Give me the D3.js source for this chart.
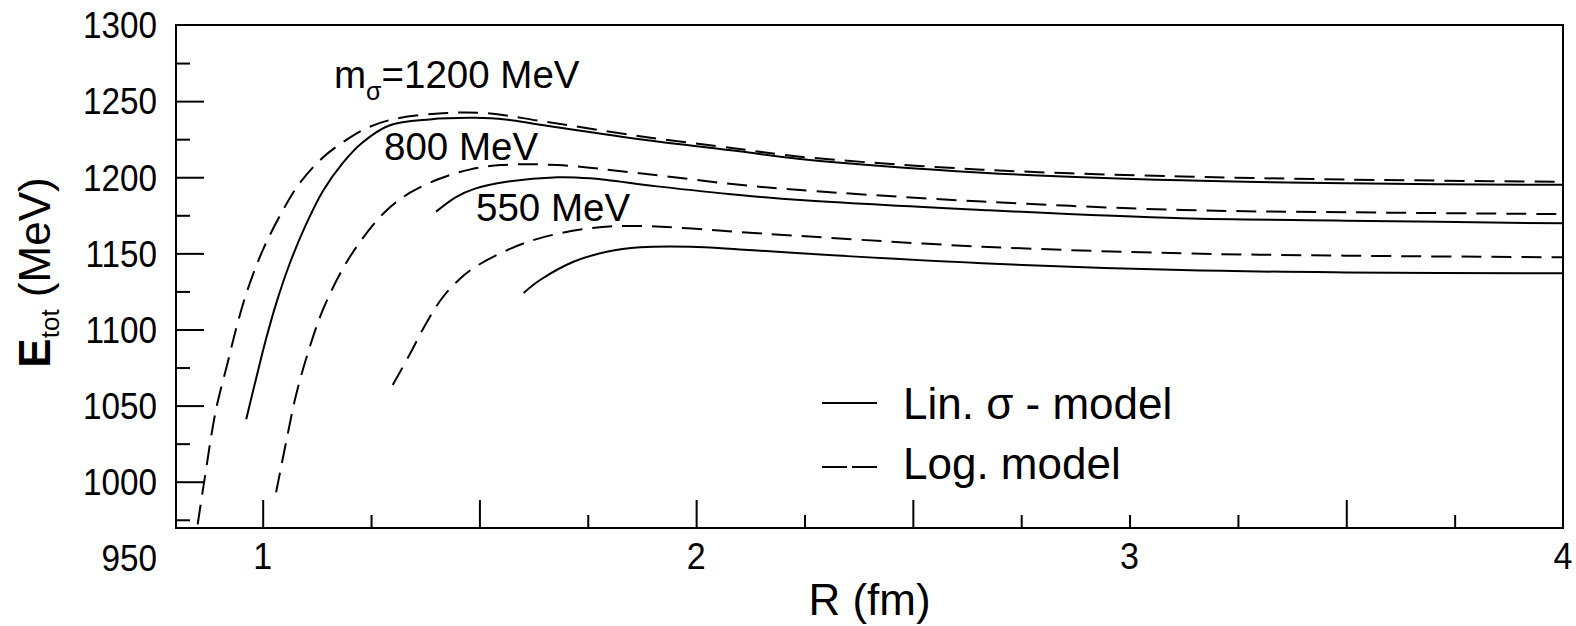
<!DOCTYPE html>
<html>
<head>
<meta charset="utf-8">
<script src="https://cdn.jsdelivr.net/npm/d3@7"></script>
<style>
  html, body { margin: 0; padding: 0; background: #fff; }
  svg { display: block; font-family: "Liberation Sans", Arial, sans-serif; }
</style>
</head>
<body>
<svg id="chart" width="1576" height="626"></svg>
<script>
// Total energy E_tot (MeV) versus radius R (fm) for three sigma masses
const linModel1200 = [[0.962,1041],[0.985,1068],[1.008,1094],[1.031,1117],[1.062,1143],[1.1,1169],[1.139,1191],[1.185,1209.5],[1.231,1223],[1.292,1234],[1.385,1238],[1.49,1239],[1.56,1238],[1.64,1234.5],[1.87,1225],[2.1,1217],[2.24,1212],[2.66,1203],[3.12,1198],[3.5,1196],[4,1195]];
const logModel1200 = [[0.85,972],[0.865,1000],[0.892,1047],[0.919,1078],[0.942,1104],[0.965,1126],[1.0,1152],[1.046,1178],[1.085,1196],[1.139,1213],[1.185,1223],[1.238,1232],[1.3,1238],[1.415,1242],[1.52,1242],[1.64,1237],[1.87,1227],[2.1,1218.5],[2.24,1213.5],[2.66,1205],[3.12,1200.5],[3.5,1198.5],[4,1197]];
const linModel800 = [[1.4,1177.4],[1.446,1187],[1.49,1192.5],[1.563,1197],[1.68,1200],[1.755,1199.3],[1.91,1194],[2.1,1188.3],[2.24,1185],[2.66,1178.5],[3.12,1173],[3.5,1171.5],[4,1169.7]];
const logModel800 = [[1.031,993],[1.054,1026],[1.077,1057],[1.108,1088],[1.139,1113],[1.185,1140],[1.231,1160],[1.285,1178],[1.338,1189.5],[1.408,1199],[1.477,1205],[1.55,1208],[1.68,1208],[1.87,1202.6],[2.1,1195],[2.24,1191.6],[2.66,1184],[3.12,1178.5],[3.5,1177],[4,1175.8]];
const linModel550 = [[1.602,1124],[1.64,1132.5],[1.717,1144.5],[1.794,1151],[1.871,1154],[1.987,1154.4],[2.1,1152.6],[2.24,1150],[2.66,1143.5],[3.12,1139],[3.5,1137.5],[4,1136.9]];
const logModel550 = [[1.3,1063.5],[1.338,1083],[1.377,1104],[1.415,1121],[1.454,1133],[1.49,1141],[1.563,1152],[1.64,1160],[1.755,1166.5],[1.87,1168],[2.1,1164],[2.24,1161.4],[2.66,1154.4],[3.12,1150],[3.5,1148.5],[4,1147.4]];

const xTickLabels = [1, 2, 3, 4];
const xMajorTicks = [1, 1.5, 2, 2.5, 3.5];
const xMinorTicks = [1.25, 1.75, 2.25, 2.75, 3, 3.25, 3.75];
const yTickLabels = [950, 1000, 1050, 1100, 1150, 1200, 1250, 1300];
const yMajorTicks = [1000, 1050, 1100, 1150, 1200, 1250];
const yMinorTicks = [975, 1025, 1075, 1125, 1175, 1225, 1275];

const curves = [
  { data: linModel1200, dashed: false },
  { data: logModel1200, dashed: true },
  { data: linModel800, dashed: false },
  { data: logModel800, dashed: true },
  { data: linModel550, dashed: false },
  { data: logModel550, dashed: true }
];

const plotLeft = 176, plotRight = 1563, plotTop = 25, plotBottom = 528;
const x = d3.scaleLinear().domain([0.8, 4]).range([plotLeft, plotRight]);
const y = d3.scaleLinear().domain([969.6, 1300]).range([plotBottom, plotTop]);

const svg = d3.select("#chart");

svg.append("defs").append("clipPath").attr("id", "plotClip")
  .append("rect").attr("x", plotLeft).attr("y", plotTop)
  .attr("width", plotRight - plotLeft).attr("height", plotBottom - plotTop);

// curves
const line = d3.line().x(d => x(d[0])).y(d => y(d[1])).curve(d3.curveCatmullRom.alpha(0.5));
const plot = svg.append("g").attr("clip-path", "url(#plotClip)");
plot.selectAll("path.curve").data(curves).join("path")
  .attr("class", "curve")
  .attr("d", d => line(d.data))
  .attr("fill", "none")
  .attr("stroke", "#000")
  .attr("stroke-width", 2)
  .attr("stroke-dasharray", d => d.dashed ? "20,10" : null);

// frame
svg.append("rect").attr("x", plotLeft).attr("y", plotTop)
  .attr("width", plotRight - plotLeft).attr("height", plotBottom - plotTop)
  .attr("fill", "none").attr("stroke", "#000").attr("stroke-width", 2);

// x ticks (drawn inward from the bottom edge)
const xAxisMajor = d3.axisBottom(x).tickValues(xMajorTicks).tickSize(-28).tickFormat("");
const xAxisMinor = d3.axisBottom(x).tickValues(xMinorTicks).tickSize(-13).tickFormat("");
[xAxisMajor, xAxisMinor].forEach(ax => {
  const g = svg.append("g").attr("transform", `translate(0,${plotBottom})`).call(ax);
  g.select(".domain").remove();
  g.selectAll("line").attr("stroke", "#000").attr("stroke-width", 2);
});

// y ticks (drawn inward from the left edge)
const yAxisMajor = d3.axisLeft(y).tickValues(yMajorTicks).tickSize(-28).tickFormat("");
const yAxisMinor = d3.axisLeft(y).tickValues(yMinorTicks).tickSize(-14).tickFormat("");
[yAxisMajor, yAxisMinor].forEach(ax => {
  const g = svg.append("g").attr("transform", `translate(${plotLeft},0)`).call(ax);
  g.select(".domain").remove();
  g.selectAll("line").attr("stroke", "#000").attr("stroke-width", 2);
});

// tick labels (slightly condensed digits)
svg.append("g").selectAll("text").data(xTickLabels).join("text")
  .attr("transform", d => `translate(${x(d)},569) scale(0.92,1)`)
  .attr("text-anchor", "middle").attr("font-size", 37)
  .text(d => d);

svg.append("g").selectAll("text").data(yTickLabels).join("text")
  .attr("transform", d => `translate(157,${y(d)}) scale(0.9,1)`)
  .attr("dy", "0.36em")
  .attr("text-anchor", "end").attr("font-size", 37)
  .text(d => d);

// axis titles
svg.append("text").attr("x", (plotLeft + plotRight) / 2).attr("y", 615)
  .attr("text-anchor", "middle").attr("font-size", 44)
  .text("R (fm)");

const yTitle = svg.append("text")
  .attr("transform", `translate(50,${(plotTop + plotBottom) / 2 - 4}) rotate(-90)`)
  .attr("text-anchor", "middle").attr("font-size", 44);
yTitle.append("tspan").attr("font-weight", "bold").text("E");
yTitle.append("tspan").attr("font-size", 26).attr("dy", 9).text("tot");
yTitle.append("tspan").attr("dy", -9).text(" (MeV)");

// curve annotations
const ann = svg.append("text").attr("x", 334).attr("y", 88).attr("font-size", 38.5);
ann.append("tspan").text("m");
ann.append("tspan").attr("font-size", 25).attr("dy", 12).text("σ");
ann.append("tspan").attr("dy", -12).text("=1200 MeV");

svg.append("text").attr("x", 384).attr("y", 160).attr("font-size", 38.5).text("800 MeV");
svg.append("text").attr("x", 476).attr("y", 221).attr("font-size", 38.5).text("550 MeV");

// legend
const legend = svg.append("g");
legend.append("line").attr("x1", 822).attr("x2", 877).attr("y1", 403).attr("y2", 403)
  .attr("stroke", "#000").attr("stroke-width", 2);
legend.append("text").attr("x", 903).attr("y", 419).attr("font-size", 44).text("Lin. σ - model");
legend.append("line").attr("x1", 822).attr("x2", 877).attr("y1", 467).attr("y2", 467)
  .attr("stroke", "#000").attr("stroke-width", 2).attr("stroke-dasharray", "25,5");
legend.append("text").attr("x", 903).attr("y", 479).attr("font-size", 44).text("Log. model");
</script>
</body>
</html>
